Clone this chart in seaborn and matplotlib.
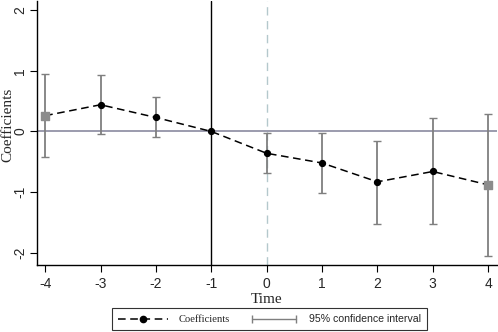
import numpy as np
import matplotlib
matplotlib.use("Agg")
import matplotlib.pyplot as plt
import seaborn as sns
from matplotlib.lines import Line2D
from matplotlib.legend_handler import HandlerLine2D

# event time and estimates
time = [-4, -3, -2, -1, 0, 1, 2, 3, 4]
coef = [0.26, 0.44, 0.23, 0.0, -0.36, -0.52, -0.83, -0.66, -0.88]
ci_low = [-0.42, -0.05, -0.09, 0.0, -0.69, -1.01, -1.52, -1.53, -2.06]
ci_high = [0.95, 0.93, 0.57, 0.0, -0.02, -0.02, -0.16, 0.22, 0.29]
yticks = [-2, -1, 0, 1, 2]

sns.set_style("ticks")
fig = plt.figure(figsize=(4.98, 3.32), dpi=100)
ax = fig.add_axes([0.074, 0.202, 0.924, 0.795])

gray = "#7f7f7f"
ax.axhline(0, color="#8a8aa0", lw=1.2, zorder=1)
ax.axvline(-1, color="black", lw=1.0, zorder=1)
ax.axvline(0, color="#b4c8cc", lw=1.0, ls=(0, (6, 4)), zorder=1)

t = np.array(time)
c = np.array(coef)
lo = np.array(ci_low)
hi = np.array(ci_high)
has_ci = hi - lo > 0
ax.errorbar(t[has_ci], c[has_ci], yerr=[c[has_ci] - lo[has_ci], hi[has_ci] - c[has_ci]],
            fmt="none", ecolor=gray, elinewidth=1.3, capsize=3, capthick=1.0, zorder=2)

sns.lineplot(x=time, y=coef, ax=ax, color="black", lw=1.1, zorder=3,
             linestyle=(0, (5, 3)), legend=False)
mid = (t > t.min()) & (t < t.max())
ax.scatter(t[mid], c[mid], s=18, color="black", zorder=4)
ends = ~mid
ax.scatter(t[ends], c[ends], s=28, marker="s", color="#8c8c8c", zorder=4)

ax.set_xlim(-4.15, 4.16)
ax.set_ylim(-2.2, 2.15)
ax.set_xticks(time)
ax.set_xticklabels([str(v) for v in time], fontsize=10, family="Liberation Sans")
ax.set_yticks(yticks)
ax.set_yticklabels([str(v) for v in yticks], fontsize=10, family="Liberation Sans",
                   rotation=90, va="center")
ax.tick_params(axis="x", length=5, width=0.8, color="black", pad=4)
ax.tick_params(axis="y", length=5, width=0.8, color="black", pad=2)
ax.set_xlabel("Time", fontsize=11, family="Liberation Serif", labelpad=1)
ax.set_ylabel("Coefficients", fontsize=11, family="Liberation Serif")
ax.yaxis.set_label_coords(-0.049, 0.53)
for s in ["top", "right"]:
    ax.spines[s].set_visible(False)
for s in ["left", "bottom"]:
    ax.spines[s].set_linewidth(1.0)
    ax.spines[s].set_color("black")

h1 = Line2D([], [], color="black", ls=(0, (5, 3)), marker="o", markersize=4.5, lw=1.1)
h2 = Line2D([], [], color=gray, lw=1.0, marker="|", markersize=6)
leg = fig.legend([h1, h2], ["Coefficients", "95% confidence interval"],
                 loc="lower center", bbox_to_anchor=(0.541, 0.006), ncol=2,
                 frameon=True, fancybox=False, edgecolor="black", fontsize=7.6,
                 handlelength=4.8, columnspacing=1.8, borderpad=0.55,
                 handletextpad=0.95, borderaxespad=0,
                 handler_map={h1: HandlerLine2D(numpoints=1), h2: HandlerLine2D(numpoints=2)})
leg.get_frame().set_linewidth(0.8)
leg.get_texts()[0].set_fontfamily("Liberation Serif")
leg.get_texts()[1].set_fontfamily("Liberation Sans")

fig.savefig("out.png", dpi=100)
